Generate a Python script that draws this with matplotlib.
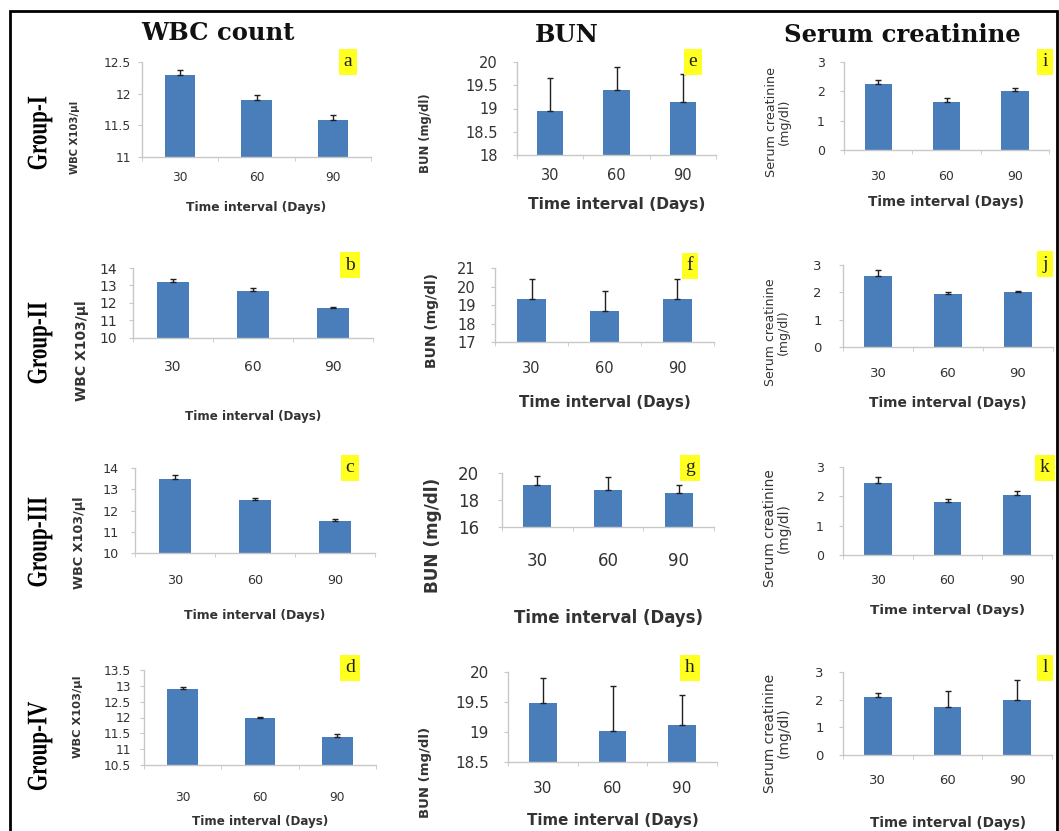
import matplotlib
matplotlib.use('Agg')
import matplotlib.pyplot as plt
from matplotlib.patches import Rectangle, PathPatch
from matplotlib.textpath import TextPath
from matplotlib.font_manager import FontProperties
from matplotlib.transforms import Affine2D

plt.rcParams['font.family'] = ['DejaVu Sans']

##### Data #####
groups = ['Group-I', 'Group-II', 'Group-III', 'Group-IV']
days = ['30', '60', '90']
letters = [['a', 'e', 'i'], ['b', 'f', 'j'], ['c', 'g', 'k'], ['d', 'h', 'l']]
titles = ['WBC count', 'BUN', 'Serum creatinine']
ylabels = ['WBC X103/\u00b5l', 'BUN (mg/dl)', 'Serum creatinine\n(mg/dl)']
xlabel = 'Time interval (Days)'

wbc_mean = [[12.3, 11.9, 11.58], [13.2, 12.7, 11.7], [13.5, 12.5, 11.5], [12.9, 12.0, 11.4]]
wbc_err = [[0.08, 0.08, 0.08], [0.15, 0.15, 0.08], [0.15, 0.1, 0.08], [0.07, 0.02, 0.07]]
bun_mean = [[18.95, 19.4, 19.15], [19.35, 18.7, 19.3], [19.1, 18.75, 18.5], [19.48, 19.02, 19.12]]
bun_err = [[0.7, 0.5, 0.6], [1.05, 1.05, 1.1], [0.7, 0.95, 0.6], [0.42, 0.75, 0.5]]
creat_mean = [[2.25, 1.65, 2.0], [2.6, 1.95, 2.0], [2.45, 1.8, 2.05], [2.1, 1.75, 2.0]]
creat_err = [[0.15, 0.12, 0.1], [0.2, 0.05, 0.05], [0.2, 0.12, 0.12], [0.15, 0.55, 0.7]]

wbc_ticks = [[11, 11.5, 12, 12.5], [10, 11, 12, 13, 14], [10, 11, 12, 13, 14],
             [10.5, 11, 11.5, 12, 12.5, 13, 13.5]]
bun_ticks = [[18, 18.5, 19, 19.5, 20], [17, 18, 19, 20, 21], [16, 18, 20], [18.5, 19, 19.5, 20]]
creat_ticks = [[0, 1, 2, 3]] * 4

means = [wbc_mean, bun_mean, creat_mean]
errs = [wbc_err, bun_err, creat_err]
ticks = [wbc_ticks, bun_ticks, creat_ticks]

##### Layout (pixels) #####
W, H = 1059, 831
# left, right, top, bottom, tick fs, tick label y, ytick gap, xlabel fs, xlabel y, ylabel fs, ylabel x, ylabel y
layout = [
    [(142, 371, 62, 157, 8.8, 178, 10, 8.8, 208, 7.3, 75, 137),
     (517, 716, 62, 155, 10.5, 177, 18, 11.2, 205, 8.4, 425, 133),
     (844, 1049, 62, 150, 9, 177, 18, 9.8, 202, 9.2, 778, 122)],
    [(133, 373, 268, 338, 10, 368, 15, 8.6, 417, 10, 82, 351),
     (495, 714, 268, 342, 10.5, 370, 18, 10.8, 403, 10, 432, 320),
     (843, 1053, 265, 347, 9.5, 375, 20, 9.9, 403, 9, 777, 332)],
    [(135, 375, 468, 553, 9.2, 582, 15, 8.9, 615, 9.2, 80, 543),
     (502, 714, 473, 527, 12, 562, 22, 11.9, 618, 12.2, 433, 535),
     (843, 1052, 467, 555, 9, 582, 18, 9.7, 610, 9.8, 777, 528)],
    [(144, 376, 670, 765, 8.8, 798, 12, 8.6, 822, 8.2, 78, 717),
     (508, 717, 672, 762, 11, 790, 18, 10.8, 820, 9.5, 425, 772),
     (843, 1052, 672, 755, 9.5, 782, 18, 9.8, 823, 10, 777, 733)],
]
group_y = [133, 343, 542, 746]
letter_pos = [[(348, 62), (693, 62), (1045, 62)],
              [(350, 265), (690, 266), (1045, 264)],
              [(350, 468), (690, 468), (1045, 468)],
              [(350, 668), (690, 668), (1045, 668)]]
title_pos = [(218, 33), (567, 35), (902, 35)]

bar_color = '#4A7EBB'
spine_color = '#C8C8C8'
text_color = '#333333'

fig = plt.figure(figsize=(W / 100, H / 100), dpi=100)
fig.patches.append(Rectangle((10 / W, -0.1), 1047 / W, 1.1 - 11 / H, transform=fig.transFigure,
                             fill=False, edgecolor='black', linewidth=2))

group_font = FontProperties(family='Liberation Serif', weight='bold')

for r in range(4):
    for c in range(3):
        left, right, top, bottom, tfs, ty, ygap, xfs, xy, yfs, ylx, yly = layout[r][c]
        ax = fig.add_axes([left / W, 1 - bottom / H, (right - left) / W, (bottom - top) / H])
        yt = ticks[c][r]
        x = range(len(days))
        ax.bar(x, [m - yt[0] for m in means[c][r]], width=0.4, bottom=yt[0], color=bar_color, zorder=2)
        ax.errorbar(x, means[c][r], yerr=[[0] * 3, errs[c][r]], fmt='none', ecolor='#202020',
                    elinewidth=1, capsize=2.5, capthick=1, zorder=3)
        ax.set_xlim(-0.5, 2.5)
        ax.set_ylim(yt[0], yt[-1])
        ax.set_yticks(yt)
        ax.set_yticklabels(['{:g}'.format(v) for v in yt])
        ax.set_xticks(list(x))
        ax.set_xticklabels(days)
        ax.set_xticks([-0.5, 0.5, 1.5, 2.5], minor=True)
        for s in ['top', 'right']:
            ax.spines[s].set_visible(False)
        for s in ['left', 'bottom']:
            ax.spines[s].set_color(spine_color)
            ax.spines[s].set_linewidth(1)
        fs_px = tfs / 0.72
        ax.tick_params(axis='x', which='major', length=0, labelsize=tfs, labelcolor=text_color,
                       pad=max((ty - bottom - 0.6 * fs_px) * 0.72, 1))
        ax.tick_params(axis='x', which='minor', length=3, color=spine_color)
        ax.tick_params(axis='y', length=3, color=spine_color, labelsize=tfs, labelcolor=text_color,
                       pad=(ygap - 3) * 0.72)
        ax.set_xlabel(xlabel, fontsize=xfs, fontweight='bold', color=text_color, va='center')
        ax.xaxis.set_label_coords(0.5, (bottom - xy) / (bottom - top))
        ax.set_ylabel(ylabels[c], fontsize=yfs, fontweight='bold' if c < 2 else 'normal',
                      color=text_color, va='center', ha='center', linespacing=1.0)
        ax.yaxis.set_label_coords((ylx - left) / (right - left), (bottom - yly) / (bottom - top))
        lx, lyp = letter_pos[r][c]
        fig.text(lx / W, 1 - lyp / H, letters[r][c], ha='center', va='center', fontsize=14,
                 family='Liberation Serif', color='#202020',
                 bbox=dict(boxstyle='square,pad=0.25', facecolor='#FFFF20', edgecolor='none'))

    # group label: condensed bold serif, stretched across like the original
    tp = TextPath((0, 0), groups[r], size=21, prop=group_font)
    bb = tp.get_extents()
    tr = (Affine2D().translate(-(bb.x0 + bb.x1) / 2, -(bb.y0 + bb.y1) / 2)
          .scale(1, 1.35).rotate_deg(90).translate(40, H - group_y[r]))
    fig.add_artist(PathPatch(tp, transform=tr, facecolor='black', edgecolor='none'))

for t, (tx, tyy) in zip(titles, title_pos):
    fig.text(tx / W, 1 - tyy / H, t, ha='center', va='center', fontsize=17.5, fontweight='bold',
             family='DejaVu Serif', color='#111111')

fig.savefig('out.png', dpi=100)
